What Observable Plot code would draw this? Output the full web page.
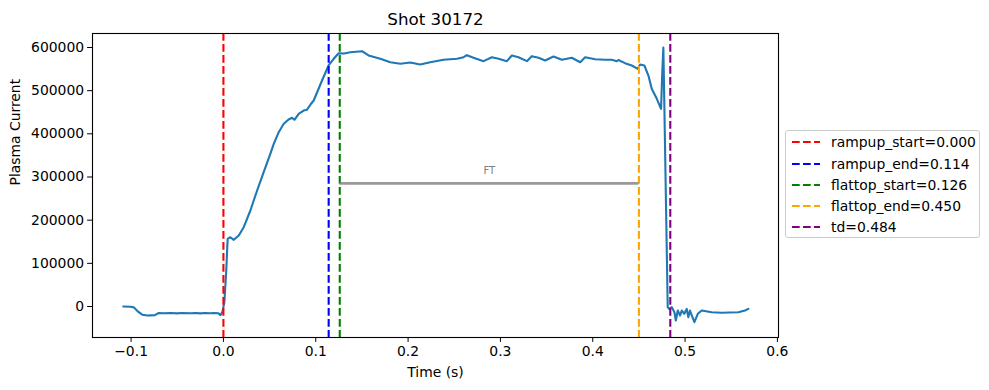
<!DOCTYPE html>
<html>
<head>
<meta charset="utf-8">
<script src="https://cdn.jsdelivr.net/npm/d3@7"></script>
<script src="https://cdn.jsdelivr.net/npm/@observablehq/plot@0.6"></script>
<style>
  html, body { margin: 0; padding: 0; background: #fff; }
  #wrap { position: relative; width: 989px; height: 390px; font-family: "DejaVu Sans", sans-serif; }
  #legend { position: absolute; left: 785px; top: 130px; width: 195px; height: 108px; box-sizing: border-box;
            border: 1px solid #cccccc; border-radius: 3px; background: rgba(255,255,255,0.8); }
  .row { position: absolute; left: 0; height: 16px; display: flex; align-items: center; }
  .row svg { margin-left: 6px; display: block; }
  .row span { margin-left: 11px; font-size: 13.9px; line-height: 16px; color: #000; white-space: nowrap; }
</style>
</head>
<body>
<div id="wrap"></div>
<script>
// ---- data ----
const shotTitle = "Shot 30172";
const timeValues = [
  -0.1085, -0.1005, -0.0970, -0.0924, -0.0880, -0.0824, -0.0790, -0.0743, -0.0700, -0.0653,
  -0.0573, -0.0502, -0.0452, -0.0358, -0.0301, -0.0251, -0.0201, -0.0141, -0.0100, -0.0054,
  -0.0032, -0.0010, 0.0010, 0.0030, 0.0040, 0.0046, 0.0075, 0.0112, 0.0166, 0.0220,
  0.0292, 0.0365, 0.0436, 0.0508, 0.0545, 0.0599, 0.0653, 0.0706, 0.0743, 0.0769,
  0.0815, 0.0869, 0.0906, 0.0949, 0.0978, 0.1068, 0.1139, 0.1194, 0.1248, 0.1306,
  0.1374, 0.1501, 0.1572, 0.1699, 0.1807, 0.1916, 0.2023, 0.2132, 0.2240, 0.2384,
  0.2530, 0.2601, 0.2637, 0.2709, 0.2817, 0.2908, 0.2980, 0.3070, 0.3124, 0.3196,
  0.3287, 0.3340, 0.3413, 0.3485, 0.3575, 0.3666, 0.3773, 0.3864, 0.3918, 0.4026,
  0.4134, 0.4206, 0.4261, 0.4278, 0.4350, 0.4423, 0.4488, 0.4513, 0.4559, 0.4603,
  0.4639, 0.4694, 0.4740, 0.4754, 0.4765, 0.4776, 0.4812, 0.4827, 0.4856, 0.4885,
  0.4900, 0.4921, 0.4946, 0.4964, 0.4992, 0.5018, 0.5035, 0.5053, 0.5101, 0.5138,
  0.5181, 0.5288, 0.5397, 0.5577, 0.5649, 0.5685
];
const currentValues = [
  0, -500, -2000, -12000, -19000, -21000, -20500, -20000, -15000, -15500,
  -15000, -16000, -15000, -15500, -15000, -16000, -15000, -15500, -15000, -15500,
  -20000, -12000, 10000, 80000, 129700, 156800, 160500, 154500, 164500, 183700,
  222400, 268700, 311100, 353700, 376900, 403800, 423200, 433200, 437100, 432500,
  446400, 454000, 456000, 469600, 477200, 523500, 558300, 573800, 586800, 586000,
  589100, 591400, 581500, 573800, 565900, 562200, 565200, 560600, 565900, 571500,
  573800, 577500, 582200, 576100, 568300, 577500, 574000, 568300, 581500, 577500,
  568300, 579900, 576100, 569900, 579200, 571500, 576100, 565900, 577500, 572900,
  571500, 571500, 568300, 571000, 563700, 558300, 550600, 560600, 558300, 535000,
  504300, 481100, 458000, 546700, 600000, 461700, -1600, -5400, -1600, -13200,
  -32400, -9300, -20800, -9300, -16900, -5400, -24700, -9300, -36300, -16900,
  -9300, -13200, -14600, -13200, -9300, -5400
];
const eventNames = ["rampup_start", "rampup_end", "flattop_start", "flattop_end", "td"];
const eventTimes = [0.000, 0.114, 0.126, 0.450, 0.484];
const eventColors = ["red", "blue", "green", "orange", "purple"];
const ftLabel = "FT";
const ftLevel = 285000;
const xTicks = [-0.1, 0.0, 0.1, 0.2, 0.3, 0.4, 0.5, 0.6];
const yTicks = [0, 100000, 200000, 300000, 400000, 500000, 600000];

// ---- build ----
const signal = timeValues.map((t, i) => ({t, v: currentValues[i]}));
const dash = "7.7,3.3";

const chart = Plot.plot({
  width: 989,
  height: 390,
  marginLeft: 92,
  marginRight: 211,
  marginTop: 33,
  marginBottom: 53,
  style: {fontFamily: "DejaVu Sans, sans-serif", fontSize: "13.9px", background: "#fff", color: "#000"},
  x: {domain: [-0.1418, 0.6012], ticks: xTicks, tickFormat: d3.format(".1f"), label: null},
  y: {domain: [-71800, 632400], ticks: yTicks, tickFormat: d => String(d), label: null},
  marks: [
    Plot.axisX({ticks: xTicks, tickFormat: d3.format(".1f"), tickSize: 4.9, tickPadding: 3.5, fontSize: 13.9, label: null}),
    Plot.axisY({ticks: yTicks, tickFormat: d => String(d), tickSize: 4.9, tickPadding: 3.5, fontSize: 13.9, label: null}),
    Plot.line(signal, {x: "t", y: "v", stroke: "#1f77b4", strokeWidth: 2.1}),
    ...eventTimes.map((t, i) => Plot.ruleX([t], {stroke: eventColors[i], strokeWidth: 2.1, strokeDasharray: dash})),
    Plot.ruleY([ftLevel], {x1: eventTimes[2], x2: eventTimes[3], stroke: "gray", strokeOpacity: 0.8, strokeWidth: 2.8}),
    Plot.text([ftLabel], {x: (eventTimes[2] + eventTimes[3]) / 2, y: ftLevel, text: d => d, dy: -13, fill: "gray", fontSize: 10}),
    Plot.frame({stroke: "#000", strokeWidth: 1.1}),
    Plot.text([shotTitle], {frameAnchor: "top", dy: -14, text: d => d, fontSize: 16.7, fill: "#000", lineAnchor: "middle"}),
    Plot.text(["Time (s)"], {frameAnchor: "bottom", dy: 35, text: d => d, fontSize: 13.9, fill: "#000", lineAnchor: "middle"}),
    Plot.text(["Plasma Current"], {frameAnchor: "left", dx: -77, rotate: -90, text: d => d, fontSize: 13.9, fill: "#000", lineAnchor: "middle"})
  ]
});

const wrap = document.getElementById("wrap");
wrap.appendChild(chart);

// legend
const legend = document.createElement("div");
legend.id = "legend";
const rowTops = [3, 25, 46, 67, 88];
eventNames.forEach((name, i) => {
  const row = document.createElement("div");
  row.className = "row";
  row.style.top = rowTops[i] + "px";
  row.innerHTML = `<svg width="28" height="6"><line x1="0" y1="3" x2="28" y2="3" stroke="${eventColors[i]}" stroke-width="2.1" stroke-dasharray="${dash}"/></svg><span>${name}=${eventTimes[i].toFixed(3)}</span>`;
  legend.appendChild(row);
});
wrap.appendChild(legend);
</script>
</body>
</html>
